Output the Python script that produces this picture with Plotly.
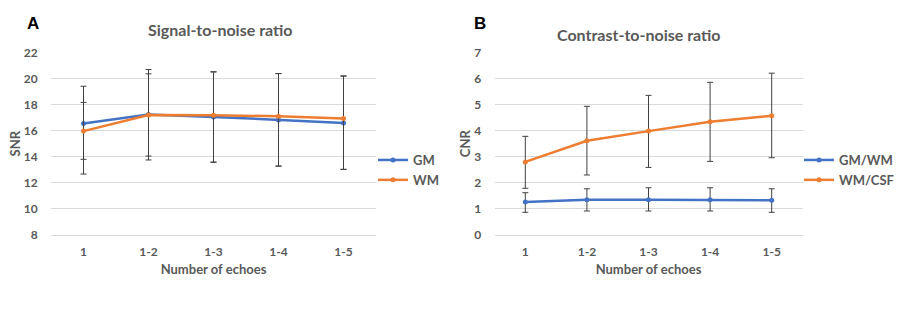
import plotly.graph_objects as go

categories = ["1", "1-2", "1-3", "1-4", "1-5"]

snr_gm = [16.55, 17.23, 17.05, 16.82, 16.59]
snr_gm_err_plus = [2.85, 3.12, 3.45, 3.55, 3.60]
snr_gm_err_minus = [2.75, 3.18, 3.47, 3.54, 3.56]
snr_wm = [15.96, 17.20, 17.18, 17.10, 16.93]
snr_wm_err_plus = [2.20, 3.48, 3.32, 3.27, 3.24]
snr_wm_err_minus = [3.29, 3.45, 3.60, 3.82, 3.90]

cnr_gmwm = [1.26, 1.35, 1.35, 1.35, 1.33]
cnr_gmwm_err_plus = [0.36, 0.42, 0.46, 0.46, 0.44]
cnr_gmwm_err_minus = [0.39, 0.43, 0.43, 0.43, 0.46]
cnr_wmcsf = [2.80, 3.61, 3.98, 4.34, 4.57]
cnr_wmcsf_err_plus = [0.98, 1.32, 1.37, 1.51, 1.63]
cnr_wmcsf_err_minus = [1.01, 1.31, 1.39, 1.52, 1.61]

BLUE = "#4472C4"
ORANGE = "#ED7D31"
GRID = "#D9D9D9"
TXT = "#595959"
ERR = "#404040"
FONT = "Lato"

W, H = 906, 317


def err(plus, minus):
    return dict(type="data", symmetric=False, array=plus, arrayminus=minus,
                color=ERR, thickness=1, width=3)


def trace(y, plus, minus, name, color, xa, ya, legend):
    return go.Scatter(x=categories, y=y, name=name, mode="lines+markers",
                      line=dict(color=color, width=2.5),
                      marker=dict(color=color, size=5),
                      error_y=err(plus, minus), xaxis=xa, yaxis=ya,
                      legend=legend)


fig = go.Figure()
fig.add_trace(trace(snr_gm, snr_gm_err_plus, snr_gm_err_minus, "GM", BLUE, "x", "y", "legend"))
fig.add_trace(trace(snr_wm, snr_wm_err_plus, snr_wm_err_minus, "WM", ORANGE, "x", "y", "legend"))
fig.add_trace(trace(cnr_gmwm, cnr_gmwm_err_plus, cnr_gmwm_err_minus, "GM/WM", BLUE, "x2", "y2", "legend2"))
fig.add_trace(trace(cnr_wmcsf, cnr_wmcsf_err_plus, cnr_wmcsf_err_minus, "WM/CSF", ORANGE, "x2", "y2", "legend2"))

ydom = [1 - 235 / H, 1 - 52.3 / H]
tickfont = dict(family=FONT, size=12, color=TXT, weight="bold")
titlefont = dict(family=FONT, size=13, color=TXT, weight="bold")
legfont = dict(family=FONT, size=13, color=TXT, weight="bold")

xcommon = dict(type="category", range=[-0.5, 4.5], showgrid=False, showline=True,
               linecolor=GRID, linewidth=1, ticks="outside", ticklen=6,
               tickcolor="rgba(0,0,0,0)", tickfont=tickfont, zeroline=False,
               automargin=False)
ycommon = dict(showgrid=True, gridcolor=GRID, gridwidth=1, zeroline=False,
               ticks="outside", ticklen=10, tickcolor="rgba(0,0,0,0)",
               tickfont=tickfont, showline=False, automargin=False)

fig.update_layout(
    width=W, height=H,
    margin=dict(l=0, r=0, t=0, b=0, autoexpand=False),
    paper_bgcolor="white", plot_bgcolor="white",
    font=dict(family=FONT, color=TXT),
    xaxis=dict(domain=[51 / W, 376 / W], anchor="y",
               title=dict(text="Number of echoes", font=titlefont, standoff=6), **xcommon),
    yaxis=dict(domain=ydom, anchor="x", range=[8, 22], dtick=2,
               title=dict(text="SNR", font=titlefont, standoff=0), **ycommon),
    xaxis2=dict(domain=[494.5 / W, 802.5 / W], anchor="y2",
                title=dict(text="Number of echoes", font=titlefont, standoff=6), **xcommon),
    yaxis2=dict(domain=ydom, anchor="x2", range=[0, 7], dtick=1,
                title=dict(text="CNR", font=titlefont, standoff=0), **ycommon),
    legend=dict(x=373 / W, y=1 - 145 / H, xanchor="left", yanchor="top",
                bgcolor="rgba(0,0,0,0)", font=legfont, tracegroupgap=0),
    legend2=dict(x=799 / W, y=1 - 145 / H, xanchor="left", yanchor="top",
                 bgcolor="rgba(0,0,0,0)", font=legfont, tracegroupgap=0),
    annotations=[
        dict(text="Signal-to-noise ratio", x=220 / W, y=1 - 30 / H, xref="paper", yref="paper",
             showarrow=False, font=dict(family=FONT, size=16, color=TXT, weight="bold"),
             xanchor="center", yanchor="middle"),
        dict(text="Contrast-to-noise ratio", x=639 / W, y=1 - 35 / H, xref="paper", yref="paper",
             showarrow=False, font=dict(family=FONT, size=16, color=TXT, weight="bold"),
             xanchor="center", yanchor="middle"),
        dict(text="A", x=33 / W, y=1 - 24 / H, xref="paper", yref="paper", showarrow=False,
             font=dict(family="Liberation Sans", size=17, color="black", weight="bold"),
             xanchor="center", yanchor="middle"),
        dict(text="B", x=480 / W, y=1 - 24 / H, xref="paper", yref="paper", showarrow=False,
             font=dict(family="Liberation Sans", size=17, color="black", weight="bold"),
             xanchor="center", yanchor="middle"),
    ],
)

fig.write_html("out.html", config={"displayModeBar": False},
               post_script="document.body.style.margin='0px';")
